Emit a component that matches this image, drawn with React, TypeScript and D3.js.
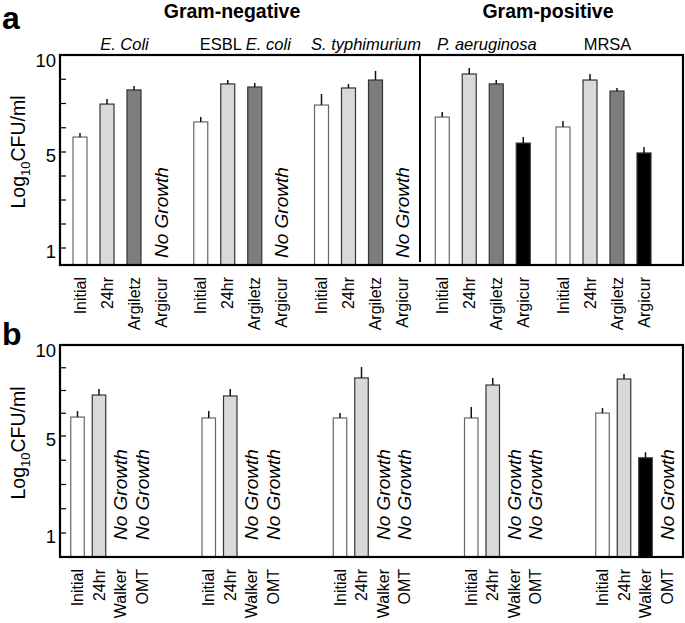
import React from "react";
import * as d3 from "d3";

// ---------- data ----------
const species = ["E. Coli", "ESBL E. coli", "S. typhimurium", "P. aeruginosa", "MRSA"];
const speciesPlain = ["", "ESBL ", "", "", "MRSA"];
const speciesItalic = ["E. Coli", "E. coli", "S. typhimurium", "P. aeruginosa", ""];

// Panel a
const condsA = ["Initial", "24hr", "Argiletz", "Argicur"];
const initialA = [5.77, 6.55, 7.42, 6.8, 6.29];
const initialAErr = [0.21, 0.25, 0.57, 0.26, 0.31];
const h24A = [7.47, 8.51, 8.3, 9.02, 8.71];
const h24AErr = [0.26, 0.2, 0.21, 0.31, 0.31];
const argiletzA = [8.2, 8.35, 8.71, 8.51, 8.14];
const argiletzAErr = [0.2, 0.21, 0.47, 0.2, 0.16];
const argicurA: (number | null)[] = [null, null, null, 5.46, 4.96];
const argicurAErr = [0, 0, 0, 0.31, 0.3];

// Panel b
const condsB = ["Initial", "24hr", "Walker", "OMT"];
const initialB = [6.04, 5.99, 5.99, 5.99, 6.26];
const initialBErr = [0.33, 0.38, 0.27, 0.6, 0.28];
const h24B = [7.25, 7.2, 8.19, 7.8, 8.13];
const h24BErr = [0.33, 0.38, 0.6, 0.39, 0.28];
const walkerB: (number | null)[] = [null, null, null, null, 4.1];
const walkerBErr = [0, 0, 0, 0, 0.23];
const omtB: (number | null)[] = [null, null, null, null, null];
const omtBErr = [0, 0, 0, 0, 0];

const yTickValues = [1, 2, 3, 4, 5, 6.25, 7.5, 8.75, 10];
const yTickLabels = [1, 5, 10];

const fillsA = ["#ffffff", "#d9d9d9", "#7d7d7d", "#000000"];
const fillsB = ["#ffffff", "#d9d9d9", "#000000", "#7d7d7d"];
const FONT = "Liberation Sans, Arial, Helvetica, sans-serif";

type Series = { values: (number | null)[]; errs: number[] };

function Panel(props: {
  top: number;
  bottom: number;
  y1: number;
  y5: number;
  y10: number;
  conds: string[];
  series: Series[];
  fills: string[];
  groupRange: [number, number];
  innerHalf: number;
  barW: number;
  labelTop: number;
  noGrowthBase: number;
}) {
  const { top, bottom, conds, series, fills, groupRange, innerHalf, barW, labelTop, noGrowthBase } = props;
  const left = 60;
  const right = 683;
  const y = d3.scaleLinear().domain([1, 5, 10]).range([props.y1, props.y5, props.y10]);
  const gx = d3.scalePoint<string>().domain(species).range(groupRange);
  const ix = d3.scalePoint<string>().domain(conds).range([-innerHalf, innerHalf]);

  const marks: React.ReactNode[] = [];
  species.forEach((sp, gi) => {
    conds.forEach((c, ci) => {
      const cx = (gx(sp) as number) + (ix(c) as number);
      const v = series[ci].values[gi];
      if (v == null) {
        marks.push(
          <text
            key={`ng-${gi}-${ci}`}
            transform={`translate(${cx},${noGrowthBase}) rotate(-90)`}
            fontFamily={FONT}
            fontStyle="italic"
            fontSize={19}
            dominantBaseline="central"
            textAnchor="start"
          >
            No Growth
          </text>
        );
      } else {
        const yt = y(v);
        marks.push(
          <rect
            key={`b-${gi}-${ci}`}
            x={cx - barW / 2}
            y={yt}
            width={barW}
            height={bottom - yt}
            fill={fills[ci]}
            stroke={ci === 0 ? "#666" : "#333"}
            strokeWidth={1.2}
          />
        );
        marks.push(
          <line
            key={`e-${gi}-${ci}`}
            x1={cx}
            x2={cx}
            y1={yt}
            y2={y(v + series[ci].errs[gi])}
            stroke="#111"
            strokeWidth={1.5}
          />
        );
      }
      marks.push(
        <text
          key={`l-${gi}-${ci}`}
          transform={`translate(${cx},${labelTop}) rotate(-90)`}
          fontFamily={FONT}
          fontSize={16}
          dominantBaseline="central"
          textAnchor="end"
        >
          {c}
        </text>
      );
    });
  });

  return (
    <g>
      {marks}
      <rect x={left} y={top} width={right - left} height={bottom - top} fill="none" stroke="#000" strokeWidth={2.2} />
      {yTickValues.map((t) => (
        <line key={`t-${t}`} x1={left} x2={left + 6} y1={y(t)} y2={y(t)} stroke="#000" strokeWidth={1.2} />
      ))}
      {yTickLabels.map((t) => (
        <text key={`tl-${t}`} x={left - 4} y={y(t) + (t === 10 ? 12 : 9.5)} fontFamily={FONT} fontSize={18.5} textAnchor="end">
          {t}
        </text>
      ))}
      <text
        transform={`translate(25,${(top + bottom) / 2 - 8}) rotate(-90)`}
        fontFamily={FONT}
        fontSize={19.5}
        textAnchor="middle"
      >
        Log
        <tspan fontSize={13} dy={5}>
          10
        </tspan>
        <tspan dy={-5}>CFU/ml</tspan>
      </text>
    </g>
  );
}

export default function App() {
  const seriesA: Series[] = [
    { values: initialA, errs: initialAErr },
    { values: h24A, errs: h24AErr },
    { values: argiletzA, errs: argiletzAErr },
    { values: argicurA, errs: argicurAErr },
  ];
  const seriesB: Series[] = [
    { values: initialB, errs: initialBErr },
    { values: h24B, errs: h24BErr },
    { values: walkerB, errs: walkerBErr },
    { values: omtB, errs: omtBErr },
  ];
  const gxA = d3.scalePoint<string>().domain(species).range([120.5, 603.5]);

  return (
    <svg width={685} height={623} style={{ position: "absolute", left: 0, top: 0, background: "#fff" }}>
      <rect x={0} y={0} width={685} height={623} fill="#fff" />
      {/* panel letters */}
      <text x={2} y={29} fontFamily={FONT} fontWeight="bold" fontSize={32}>
        a
      </text>
      <text x={2} y={345} fontFamily={FONT} fontWeight="bold" fontSize={32}>
        b
      </text>
      <text x={232} y={18} fontFamily={FONT} fontWeight="bold" fontSize={19.5} textAnchor="middle">
        Gram-negative
      </text>
      <text x={548} y={18} fontFamily={FONT} fontWeight="bold" fontSize={19.5} textAnchor="middle">
        Gram-positive
      </text>
      {species.map((sp, i) => (
        <text
          key={sp}
          x={(gxA(sp) as number) + 4}
          y={50}
          fontFamily={FONT}
          fontSize={16.5}
          textAnchor="middle"
        >
          {speciesPlain[i]}
          {speciesItalic[i] && <tspan fontStyle="italic">{speciesItalic[i]}</tspan>}
        </text>
      ))}
      <Panel
        top={55}
        bottom={265}
        y1={248}
        y5={152}
        y10={55}
        conds={condsA}
        series={seriesA}
        fills={fillsA}
        groupRange={[120.5, 603.5]}
        innerHalf={40.5}
        barW={14}
        labelTop={277}
        noGrowthBase={258}
      />
      <line x1={420} x2={420} y1={55} y2={262} stroke="#000" strokeWidth={2} />
      <Panel
        top={345}
        bottom={557}
        y1={533}
        y5={436}
        y10={345}
        conds={condsB}
        series={seriesB}
        fills={fillsB}
        groupRange={[109.75, 634.75]}
        innerHalf={32.25}
        barW={13.5}
        labelTop={569}
        noGrowthBase={540}
      />
    </svg>
  );
}
